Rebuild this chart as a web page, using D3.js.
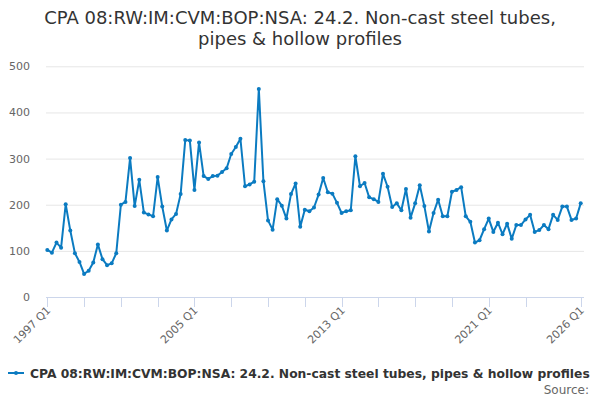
<!DOCTYPE html>
<html>
<head>
<meta charset="utf-8">
<script src="https://cdn.jsdelivr.net/npm/d3@7"></script>
<style>
  body { margin: 0; background: #fff; }
  svg { display: block; font-family: "DejaVu Sans", sans-serif; }
</style>
</head>
<body>
<div id="chart"></div>
<script>
// Data
const startYear = 1997;
const values = [
  102, 96, 118, 107, 201, 144, 95, 76, 50, 57, 75, 114, 82, 69, 73, 95,
  200, 206, 301, 197, 254, 183, 179, 175, 260, 196, 144, 168, 180, 223, 340, 339,
  232, 335, 262, 256, 262, 263, 271, 279, 310, 325, 343, 240, 244, 250, 451, 251,
  166, 146, 212, 198, 170, 223, 246, 152, 189, 186, 194, 222, 258, 227, 224, 204,
  182, 186, 188, 305, 240, 247, 216, 212, 206, 267, 239, 195, 203, 188, 234, 172,
  203, 242, 197, 142, 182, 211, 175, 175, 228, 232, 238, 175, 163, 118, 123, 147,
  170, 141, 161, 136, 159, 126, 156, 156, 168, 178, 141, 145, 156, 147, 178, 167,
  196, 196, 167, 170, 203
];
const quarters = values.map((d, i) => `${startYear + Math.floor(i / 4)} Q${(i % 4) + 1}`);
const tickQuarters = ['1997 Q1', '1999 Q1', '2001 Q1', '2003 Q1', '2005 Q1', '2007 Q1', '2009 Q1',
  '2011 Q1', '2013 Q1', '2015 Q1', '2017 Q1', '2019 Q1', '2021 Q1', '2023 Q1', '2026 Q1'];
const labelQuarters = ['1997 Q1', '2005 Q1', '2013 Q1', '2021 Q1', '2026 Q1'];
const yTicks = [0, 100, 200, 300, 400, 500];
const seriesName = 'CPA 08:RW:IM:CVM:BOP:NSA: 24.2. Non-cast steel tubes, pipes & hollow profiles';
const titleLines = ['CPA 08:RW:IM:CVM:BOP:NSA: 24.2. Non-cast steel tubes,', 'pipes & hollow profiles'];

const data = values.map((v, i) => ({ q: quarters[i], i, v }));
const color = '#0b7bc1';

const svg = d3.select('#chart').append('svg').attr('width', 600).attr('height', 400);

const x = d3.scaleLinear().domain([0, values.length - 1]).range([47.3, 580.7]);
const y = d3.scaleLinear().domain([0, 500]).range([297, 66.3]);
const xq = (q) => x(quarters.indexOf(q));

// Title
svg.append('text')
  .attr('x', 300)
  .attr('y', 24)
  .attr('text-anchor', 'middle')
  .attr('font-size', 18)
  .attr('fill', '#333')
  .selectAll('tspan')
  .data(titleLines)
  .join('tspan')
  .attr('x', 300)
  .attr('dy', (d, i) => (i ? 21 : 0))
  .text((d) => d);

// Grid + y labels
const yAxis = svg.append('g').attr('class', 'y-axis');
yAxis.selectAll('line.grid')
  .data(yTicks.filter((d) => d > 0))
  .join('line')
  .attr('class', 'grid')
  .attr('x1', 46)
  .attr('x2', 584)
  .attr('y1', (d) => y(d) + 0.5)
  .attr('y2', (d) => y(d) + 0.5)
  .attr('stroke', '#e6e6e6');

yAxis.selectAll('text')
  .data(yTicks)
  .join('text')
  .attr('x', 30)
  .attr('y', (d) => y(d) + 4)
  .attr('text-anchor', 'end')
  .attr('font-size', 11)
  .attr('fill', '#666')
  .text((d) => d);

// X axis
const xAxis = svg.append('g').attr('class', 'x-axis');
xAxis.append('line')
  .attr('x1', 46)
  .attr('x2', 584)
  .attr('y1', y(0) + 0.5)
  .attr('y2', y(0) + 0.5)
  .attr('stroke', '#ccd6eb');

xAxis.selectAll('line.tick')
  .data(tickQuarters)
  .join('line')
  .attr('class', 'tick')
  .attr('x1', (d) => Math.round(xq(d)) + 0.5)
  .attr('x2', (d) => Math.round(xq(d)) + 0.5)
  .attr('y1', y(0))
  .attr('y2', y(0) + 10)
  .attr('stroke', '#ccd6eb');

xAxis.selectAll('text')
  .data(labelQuarters)
  .join('text')
  .attr('text-anchor', 'end')
  .attr('font-size', 11)
  .attr('fill', '#666')
  .attr('transform', (d) => `translate(${xq(d) + 4},${y(0) + 14}) rotate(-45)`)
  .text((d) => d);

// Line
const line = d3.line().x((d) => x(d.i)).y((d) => y(d.v));

svg.append('path')
  .datum(data)
  .attr('fill', 'none')
  .attr('stroke', color)
  .attr('stroke-width', 2)
  .attr('stroke-linejoin', 'round')
  .attr('d', line);

svg.append('g')
  .selectAll('circle')
  .data(data)
  .join('circle')
  .attr('cx', (d) => x(d.i))
  .attr('cy', (d) => y(d.v))
  .attr('r', 2)
  .attr('fill', color);

// Legend
const legend = svg.append('g').attr('transform', 'translate(0,373)');
legend.append('line')
  .attr('x1', 8)
  .attr('x2', 24)
  .attr('stroke', color)
  .attr('stroke-width', 2);
legend.append('circle').attr('cx', 16).attr('r', 2).attr('fill', color);
legend.append('text')
  .attr('x', 30)
  .attr('y', 4.5)
  .attr('font-size', 12.3)
  .attr('font-weight', 'bold')
  .attr('fill', '#333')
  .text(seriesName);

// Source
svg.append('text')
  .attr('x', 589)
  .attr('y', 394)
  .attr('text-anchor', 'end')
  .attr('font-size', 12)
  .attr('fill', '#666')
  .text('Source:');
</script>
</body>
</html>
